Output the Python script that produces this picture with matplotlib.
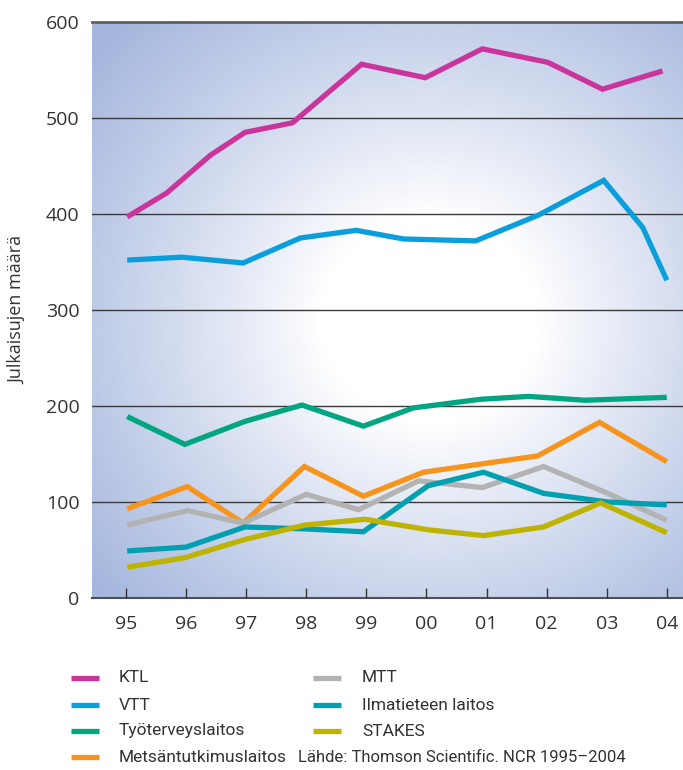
import numpy as np
import matplotlib
matplotlib.use("Agg")
import matplotlib.pyplot as plt
from matplotlib.lines import Line2D

plt.rcParams['font.family'] = ['Open Sans', 'DejaVu Sans']
legend_font = ['Roboto', 'DejaVu Sans']

# years as 95..104 (00..04 -> 100..104)
ktl_x = [95.02, 95.68, 96.4, 96.98, 97.77, 98.92, 99.98, 100.93, 102.02, 102.93, 103.93]
ktl_y = [397, 422, 461, 485, 495, 556, 542, 572, 558, 530, 549]

vtt_x = [95.02, 95.93, 96.95, 97.9, 98.83, 99.62, 100.82, 101.87, 102.95, 103.6, 104.0]
vtt_y = [352, 355, 349, 375, 383, 374, 372, 399, 435, 386, 331]

tyo_x = [95.02, 95.98, 96.98, 97.93, 98.95, 99.78, 100.9, 101.7, 102.64, 104.0]
tyo_y = [189, 160, 184, 201, 179, 198, 207, 210, 206, 209]

metsa_x = [95.02, 96.02, 96.95, 97.97, 98.95, 99.95, 101.85, 102.88, 104.0]
metsa_y = [93, 116, 78, 137, 106, 131, 148, 183, 142]

mtt_x = [95.02, 96.02, 96.95, 98.0, 98.87, 99.87, 100.93, 101.95, 103.02, 104.0]
mtt_y = [76, 91, 78, 108, 92, 122, 115, 137, 109, 81]

ilma_x = [95.02, 96.0, 96.98, 97.97, 98.95, 100.03, 100.95, 101.95, 103.02, 104.0]
ilma_y = [49, 53, 74, 72, 69, 117, 131, 109, 100, 97]

stakes_x = [95.02, 95.98, 96.98, 97.98, 98.98, 100.03, 100.95, 101.95, 102.9, 104.0]
stakes_y = [32, 42, 61, 76, 82, 71, 65, 74, 99, 68]

names = ["KTL", "VTT", "Työterveyslaitos", "Metsäntutkimuslaitos",
         "MTT", "Ilmatieteen laitos", "STAKES"]
colors = ["#C9359A", "#0A9FDC", "#00A682", "#F7941D",
          "#B3B3B3", "#00A0B0", "#BDB300"]
series = [(ktl_x, ktl_y), (vtt_x, vtt_y), (tyo_x, tyo_y), (metsa_x, metsa_y),
          (mtt_x, mtt_y), (ilma_x, ilma_y), (stakes_x, stakes_y)]

years = [95, 96, 97, 98, 99, 100, 101, 102, 103, 104]
year_labels = ["95", "96", "97", "98", "99", "00", "01", "02", "03", "04"]

W, H = 683, 770
fig = plt.figure(figsize=(W / 100, H / 100), dpi=100)
ax = fig.add_axes([92 / W, 1 - 598 / H, 1 - 92 / W, (598 - 22) / H])

xmin, xmax = 94.434, 104.27
ax.set_xlim(xmin, xmax)
ax.set_ylim(0, 600)

# radial gradient background (white centre, pale blue edges)
nx, ny = 300, 300
px = np.linspace(92, 683, nx)
py = np.linspace(22, 598, ny)
PX, PY = np.meshgrid(px, py)
r = np.hypot(PX - 430, (PY - 300) * 1.05)
t = np.clip((r - 110) / 330, 0, 1) ** 0.9
blue = np.array([0.645, 0.715, 0.87])
img = (1 - t)[..., None] * np.ones(3) + t[..., None] * blue
ax.imshow(img, extent=[xmin, xmax, 600, 0], aspect='auto', zorder=0)
ax.set_ylim(0, 600)

for yv in [100, 200, 300, 400, 500]:
    ax.axhline(yv, color="#3a3a3a", lw=1.0, zorder=1)
ax.axhline(600, color="#606060", lw=2.0, zorder=1, clip_on=False)
ax.axhline(0, color="#505050", lw=1.5, zorder=1, clip_on=False)

for (xs, ys), c, n in zip(series, colors, names):
    ax.plot(xs, ys, color=c, lw=3.8, label=n, zorder=3,
            solid_joinstyle='miter', solid_capstyle='butt')

for s in ax.spines.values():
    s.set_visible(False)

ax.set_xticks(years)
ax.set_xticklabels(year_labels)
ax.set_yticks([0, 100, 200, 300, 400, 500, 600])
ax.tick_params(axis='x', direction='in', length=7, width=1, color="#333333",
               labelsize=14, labelcolor="#333333", pad=12)
ax.tick_params(axis='y', length=0, labelsize=14, labelcolor="#333333", pad=9)
ax.set_ylabel("Julkaisujen määrä", fontsize=13, color="#333333", labelpad=14)

# legend in two columns, placed by hand
rows = [678, 705, 731, 757]
cols = [(71, 119), (313, 362)]
for i, (n, c) in enumerate(zip(names, colors)):
    col = 0 if i < 4 else 1
    yrow = rows[i if i < 4 else i - 4]
    x0, xt = cols[col]
    fig.add_artist(Line2D([x0 / W, (x0 + 28) / W], [1 - yrow / H, 1 - yrow / H],
                          color=c, lw=3.8, solid_capstyle='butt'))
    fig.text(xt / W, 1 - yrow / H, n, fontsize=12.5, family=legend_font,
             color="#333333", va='center', ha='left')

fig.text(298 / W, 1 - 757 / H, "Lähde: Thomson Scientific. NCR 1995–2004",
         fontsize=12, family=legend_font, color="#333333", va='center', ha='left')

fig.savefig("out.png", dpi=100)
